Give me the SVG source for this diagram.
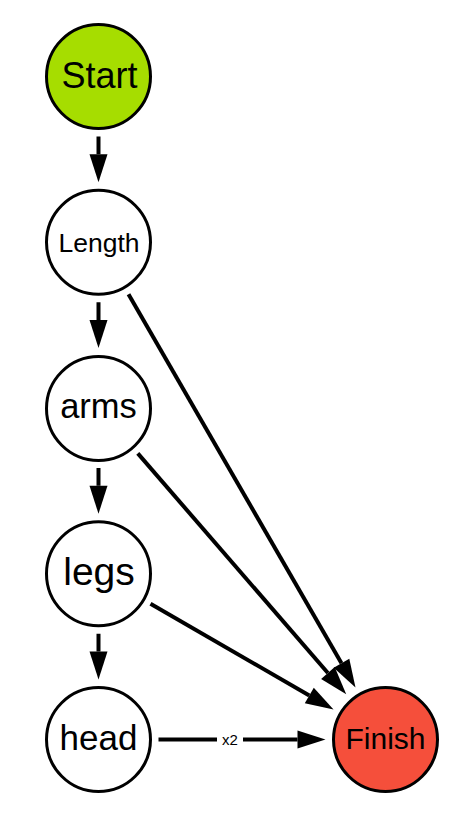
<svg xmlns="http://www.w3.org/2000/svg" width="474" height="826" viewBox="0 0 474 826">
<defs>
<style>
.node{stroke:#000;stroke-width:3;fill:#fff}
.lbl{font-family:"Liberation Sans",Arial,sans-serif;text-anchor:middle;fill:#000}
.edge{stroke:#000;stroke-width:4;fill:none}
</style>
<marker id="ah" markerUnits="userSpaceOnUse" markerWidth="28" markerHeight="18" viewBox="0 0 28 18" refX="0" refY="9" orient="auto" overflow="visible">
<path d="M0,0 L28,9 L0,18 z" fill="#000"/>
</marker>
</defs>
<rect width="474" height="826" fill="#fff"/>
<g id="connectors">
<line class="edge" x1="98.5" y1="136.5" x2="98.5" y2="154.25" marker-end="url(#ah)"/>
<line class="edge" x1="98.5" y1="302.25" x2="98.5" y2="320" marker-end="url(#ah)"/>
<line class="edge" x1="98.5" y1="468" x2="98.5" y2="485.75" marker-end="url(#ah)"/>
<line class="edge" x1="98.5" y1="633.75" x2="98.5" y2="651.5" marker-end="url(#ah)"/>
<line class="edge" x1="128.5" y1="294.2" x2="341.5" y2="663.3" marker-end="url(#ah)"/>
<line class="edge" x1="137.8" y1="453.4" x2="327.9" y2="673.0" marker-end="url(#ah)"/>
<line class="edge" x1="150.5" y1="603.75" x2="309.3" y2="695.5" marker-end="url(#ah)"/>
<line class="edge" x1="158.5" y1="739.5" x2="297.5" y2="739.5" marker-end="url(#ah)"/>
<rect x="217" y="729" width="26" height="21" fill="#fff"/>
<text class="lbl" x="230" y="744.8" font-size="15">x2</text>
</g>
<g id="start">
<circle class="node" cx="98.5" cy="76.5" r="52" style="fill:#a6dd00"/>
<text class="lbl" x="99.5" y="88.3" font-size="36">Start</text>
</g>
<g id="length">
<circle class="node" cx="98.5" cy="242.25" r="52"/>
<text class="lbl" x="99" y="251.7" font-size="26.5">Length</text>
</g>
<g id="arms">
<circle class="node" cx="98.5" cy="408.5" r="52"/>
<text class="lbl" x="98.5" y="417.7" font-size="34.5">arms</text>
</g>
<g id="legs">
<circle class="node" cx="98.5" cy="573.75" r="52"/>
<text class="lbl" x="99" y="585" font-size="39">legs</text>
</g>
<g id="head">
<circle class="node" cx="98.5" cy="739.5" r="52"/>
<text class="lbl" x="98.5" y="750" font-size="35">head</text>
</g>
<g id="finish">
<circle class="node" cx="385.5" cy="739.5" r="52" style="fill:#f54f3b"/>
<text class="lbl" x="385.5" y="749.3" font-size="30">Finish</text>
</g>
</svg>
